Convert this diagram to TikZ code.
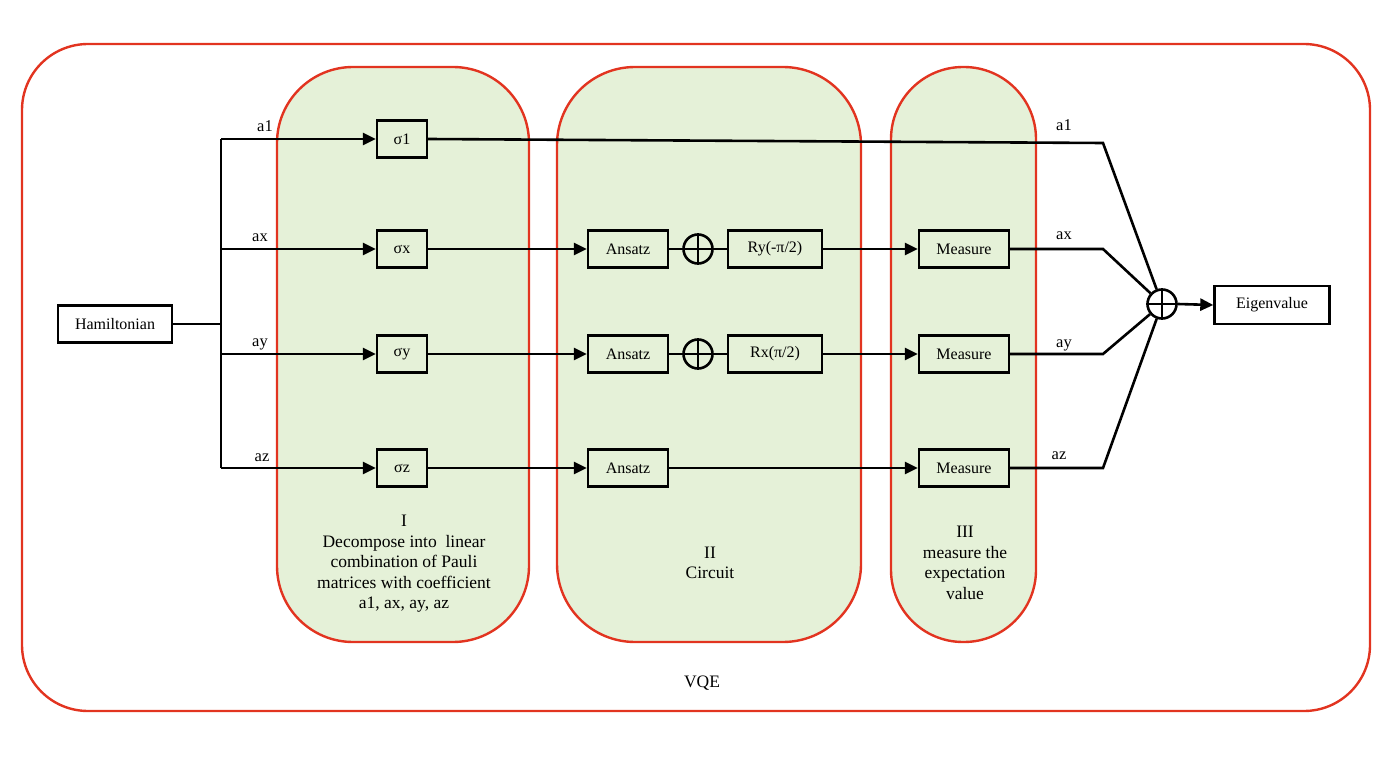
\documentclass[tikz,border=0pt]{standalone}
\usepackage{fontspec}
\setmainfont{Liberation Serif}
\usetikzlibrary{arrows.meta}
\definecolor{vqered}{RGB}{226,52,32}
\definecolor{vqegreen}{RGB}{229,241,216}
\begin{document}
\begin{tikzpicture}[x=1pt,y=-1pt,
  panel/.style={draw=vqered,fill=vqegreen,line width=2.4pt},
  blk/.style={draw,line width=2.4pt,inner sep=0pt,minimum height=37pt,fill=vqegreen,font=\fontsize{16}{18}\selectfont},
  conn/.style={line width=2.6pt},
  arr/.style={conn,-{Triangle[length=13pt,width=12pt]}},
  lbl/.style={font=\fontsize{16.5}{18}\selectfont,anchor=base},
  ptext/.style={align=center,font=\fontsize{17.5}{20.5}\selectfont},
  plus/.style={draw,line width=2.6pt,circle,minimum size=29pt,inner sep=0pt}]
\useasboundingbox (0,0) rectangle (1400,762);
% outer frame and panels
\draw[draw=vqered,line width=2.4pt,rounded corners=66pt] (22,44) rectangle (1370,711);
\draw[panel,rounded corners=76pt] (277,67) rectangle (529,642);
\draw[panel,rounded corners=78pt] (557,67) rectangle (861,642);
\draw[panel,rounded corners=72pt] (891,67) rectangle (1036,642);
% panel texts
\node[ptext] (t1) at (404,564) {I\\Decompose into\ \ linear\\combination of Pauli\\matrices with coefficient\\a1, ax, ay, az};
\node[ptext] (t2) at (710,563) {II\\Circuit};
\node[ptext] (t3) at (965,563) {III\\measure the\\expectation\\value};
\node[ptext] (vqe) at (702,683) {VQE};
% blocks
\node[blk,fill=white,minimum width=114pt] (ham) at (115,324) {Hamiltonian};
\node[blk,minimum width=50pt] (s1) at (402,139) {σ1};
\node[blk,minimum width=50pt] (sx) at (402,249) {σx};
\node[blk,minimum width=50pt] (sy) at (402,354) {σy};
\node[blk,minimum width=50pt] (sz) at (402,468) {σz};
\node[blk,minimum width=80pt] (anx) at (628,249) {Ansatz};
\node[blk,minimum width=80pt] (any) at (628,354) {Ansatz};
\node[blk,minimum width=80pt] (anz) at (628,468) {Ansatz};
\node[plus] (px) at (698,249) {};
\node[plus] (py) at (698,354) {};
\node[blk,minimum width=94pt] (ry) at (775,249) {Ry(-π/2)};
\node[blk,minimum width=94pt] (rx) at (775,354) {Rx(π/2)};
\node[blk,minimum width=90pt] (mx) at (964,249) {Measure};
\node[blk,minimum width=90pt] (my) at (964,354) {Measure};
\node[blk,minimum width=90pt] (mz) at (964,468) {Measure};
\node[plus] (sum) at (1162,304) {};
\node[blk,fill=white,minimum width=115pt,minimum height=38pt] (eig) at (1272,305) {Eigenvalue};
% plus crosses
\foreach \p in {px,py,sum}{
  \draw[line width=2.6pt] (\p.north) -- (\p.south);
  \draw[line width=2.6pt] (\p.west) -- (\p.east);
}
% branch
\coordinate (bh) at (221,324);
\coordinate (b1) at (221,139);
\coordinate (bx) at (221,249);
\coordinate (by) at (221,354);
\coordinate (bz) at (221,468);
\draw[conn] (ham.east) -- (bh);
\draw[conn] (b1) -- (bz);
\draw[arr] (b1) -- (s1.west);
\draw[arr] (bx) -- (sx.west);
\draw[arr] (by) -- (sy.west);
\draw[arr] (bz) -- (sz.west);
\node[lbl] (l1) at (265,132) {a1};
\node[lbl] (lx) at (260,241) {ax};
\node[lbl] (ly) at (260,346) {ay};
\node[lbl] (lz) at (262,461) {az};
% circuit
\draw[arr] (sx.east) -- (anx.west);
\draw[arr] (sy.east) -- (any.west);
\draw[arr] (sz.east) -- (anz.west);
\draw[conn] (anx.east) -- (px) -- (ry.west);
\draw[conn] (any.east) -- (py) -- (rx.west);
\draw[arr] (ry.east) -- (mx.west);
\draw[arr] (rx.east) -- (my.west);
\draw[arr] (anz.east) -- (mz.west);
% summation
\coordinate (j1) at (1103,143);
\coordinate (jx) at (1103,249);
\coordinate (jy) at (1103,354);
\coordinate (jz) at (1103,468);
\draw[conn] (s1.east) -- (j1) -- (sum);
\draw[conn] (mx.east) -- (jx) -- (sum);
\draw[conn] (my.east) -- (jy) -- (sum);
\draw[conn] (mz.east) -- (jz) -- (sum);
\node[lbl] (r1) at (1064,131) {a1};
\node[lbl] (rx1) at (1064,240) {ax};
\node[lbl] (ry1) at (1064,347) {ay};
\node[lbl] (rz1) at (1059,459) {az};
\draw[arr] (sum.east) -- (eig.west);
\end{tikzpicture}
\end{document}
